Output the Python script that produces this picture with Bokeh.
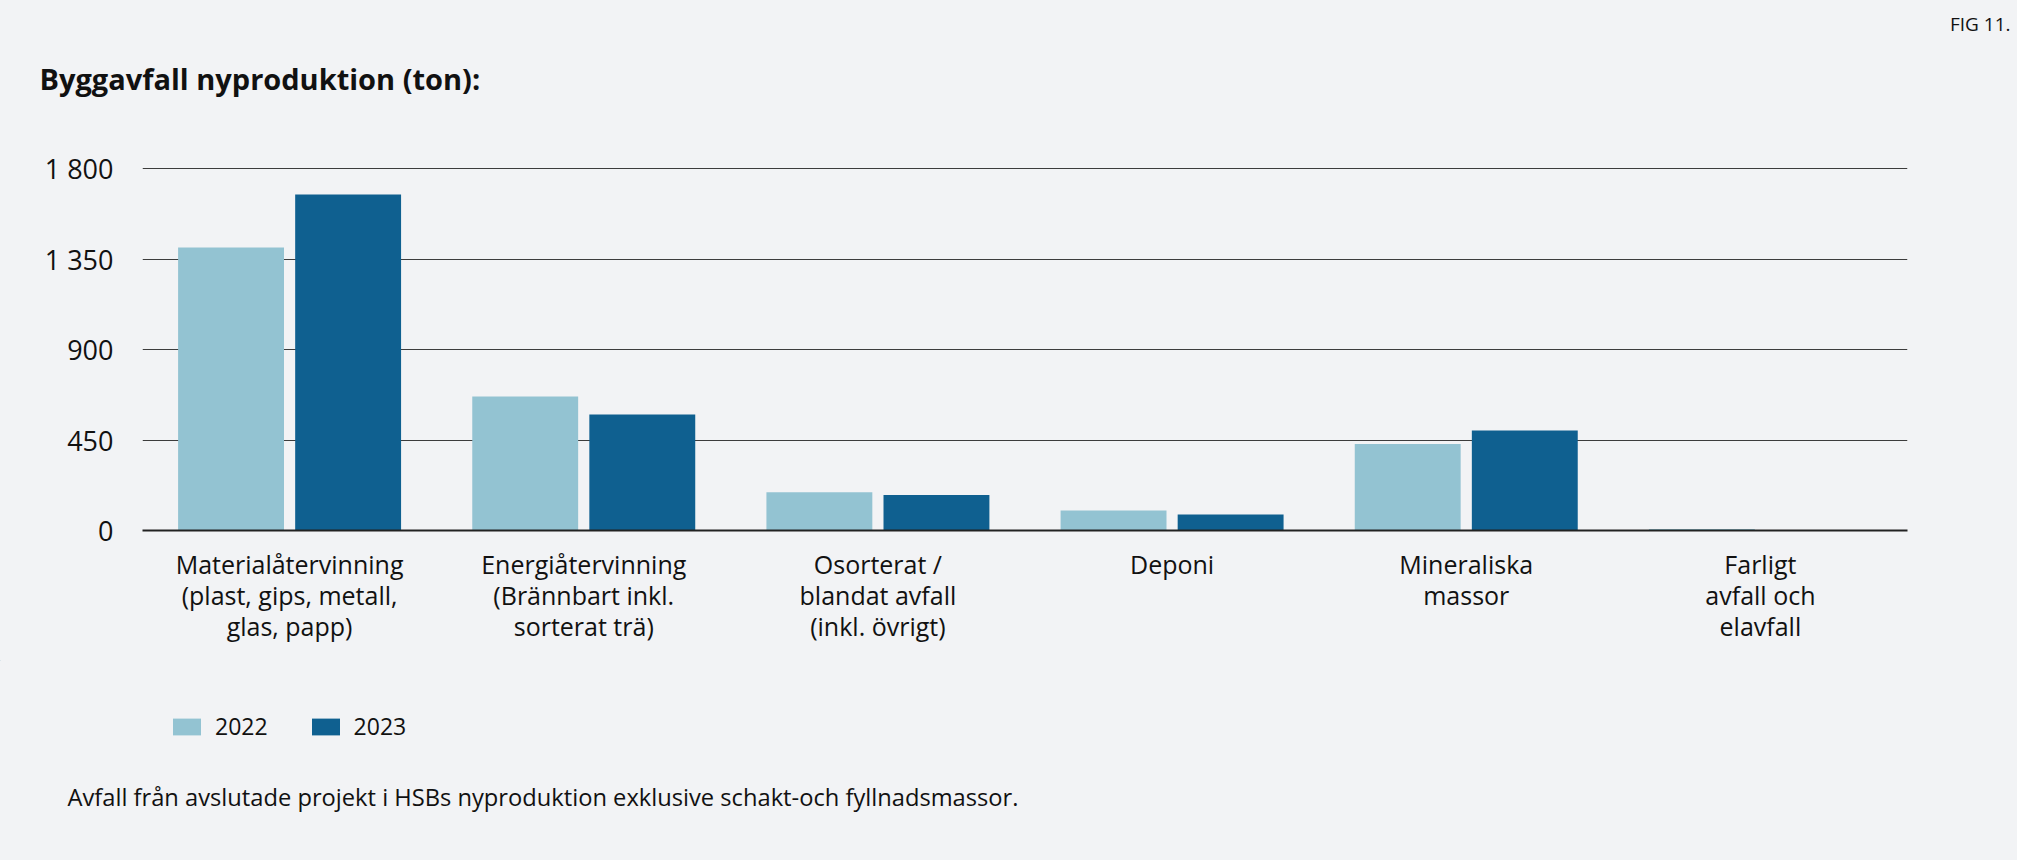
from bokeh.plotting import figure
from bokeh.layouts import column
from bokeh.models import (ColumnDataSource, FixedTicker, Label, Legend, LegendItem,
                          Range1d, FactorRange)
from bokeh.transform import dodge
from bokeh.embed import file_html
from bokeh.resources import INLINE

# ---- data ----
categories = [
    "Materialåtervinning\n(plast, gips, metall,\nglas, papp)",
    "Energiåtervinning\n(Brännbart inkl.\nsorterat trä)",
    "Osorterat /\nblandat avfall\n(inkl. övrigt)",
    "Deponi",
    "Mineraliska\nmassor",
    "Farligt\navfall och\nelavfall",
]
values_2022 = [1407, 666, 190, 100, 430, 7]
values_2023 = [1671, 577, 176, 80, 497, 3]
series_names = ["2022", "2023"]
y_ticks = [0, 450, 900, 1350, 1800]
y_tick_labels = ["0", "450", "900", "1 350", "1 800"]

title_text = "Byggavfall nyproduktion (ton):"
fig_text = "FIG 11."
note_text = "Avfall från avslutade projekt i HSBs nyproduktion exklusive schakt-och fyllnadsmassor."

# ---- styles ----
BG = "#f2f3f5"
C22 = "#93c3d2"
C23 = "#0f6090"
TXT = "#111111"
FONT = "Open Sans"

W = 2017
H_TOP, H_MAIN, H_BOT = 144, 516, 200


def blank(height):
    f = figure(width=W, height=height, x_range=Range1d(0, W), y_range=Range1d(height, 0),
               output_backend="svg", toolbar_location=None,
               x_axis_type=None, y_axis_type=None,
               min_border_left=0, min_border_right=0,
               min_border_top=0, min_border_bottom=0)
    f.frame_align = False
    f.background_fill_color = BG
    f.border_fill_color = BG
    f.outline_line_color = None
    f.xgrid.visible = False
    f.ygrid.visible = False
    return f


# ---- header ----
top = blank(H_TOP)
top.add_layout(Label(x=39, y=78, text=title_text,
                     text_font=FONT, text_font_size="29px", text_font_style="bold",
                     text_color=TXT, text_baseline="middle", text_align="left"))
top.add_layout(Label(x=2010, y=23, text=fig_text,
                     text_font=FONT, text_font_size="19px",
                     text_color=TXT, text_baseline="middle", text_align="right"))

# ---- main chart ----
src = ColumnDataSource(dict(cat=categories, v22=values_2022, v23=values_2023))

p = figure(width=W, height=H_MAIN, x_range=FactorRange(*categories), y_range=Range1d(0, 1820),
           output_backend="svg", toolbar_location=None,
           min_border_left=142, min_border_right=110,
           min_border_top=20, min_border_bottom=130)
p.frame_align = False
p.background_fill_color = BG
p.border_fill_color = BG
p.outline_line_color = None

p.vbar(x=dodge("cat", -0.199, range=p.x_range), top="v22", width=0.36, source=src,
       fill_color=C22, line_color=None)
p.vbar(x=dodge("cat", 0.199, range=p.x_range), top="v23", width=0.36, source=src,
       fill_color=C23, line_color=None)

p.xgrid.grid_line_color = None
p.ygrid.grid_line_color = "#3c3c3c"
p.ygrid.grid_line_width = 1
p.ygrid.ticker = FixedTicker(ticks=y_ticks)

p.yaxis.ticker = FixedTicker(ticks=y_ticks)
p.yaxis.major_label_overrides = {t: l for t, l in zip(y_ticks, y_tick_labels)}
p.yaxis.axis_line_color = None
p.yaxis.major_tick_line_color = None
p.yaxis.minor_tick_line_color = None
p.yaxis.major_tick_out = 0
p.yaxis.major_label_standoff = 29
p.yaxis.major_label_text_font = FONT
p.yaxis.major_label_text_font_size = "27px"
p.yaxis.major_label_text_color = TXT

p.xaxis.axis_line_color = "#222222"
p.xaxis.axis_line_width = 2
p.xaxis.major_tick_line_color = None
p.xaxis.minor_tick_line_color = None
p.xaxis.major_tick_out = 0
p.xaxis.major_label_standoff = 16
p.xaxis.major_label_text_font = FONT
p.xaxis.major_label_text_font_size = "25px"
p.xaxis.major_label_text_color = TXT
p.xaxis.major_label_text_line_height = 0.92
p.xaxis.major_label_orientation = "horizontal"

# ---- footer: legend + note ----
bot = blank(H_BOT)
# legend keys: one point each, placed outside the visible range
k22 = bot.vbar(x=[-500], top=[-400], bottom=[-450], width=1, fill_color=C22, line_color=None)
k23 = bot.vbar(x=[-500], top=[-400], bottom=[-450], width=1, fill_color=C23, line_color=None)
legend = Legend(items=[LegendItem(label=series_names[0], renderers=[k22]),
                       LegendItem(label=series_names[1], renderers=[k23])],
                location=(169, 118), orientation="horizontal",
                glyph_width=35, glyph_height=21, label_standoff=11, spacing=40,
                padding=0, margin=0, border_line_color=None, background_fill_color=None,
                label_text_font=FONT, label_text_font_size="23px", label_text_color=TXT,
                label_height=21)
bot.add_layout(legend, "center")
bot.add_layout(Label(x=67, y=136, text=note_text,
                     text_font=FONT, text_font_size="23.7px",
                     text_color=TXT, text_baseline="middle", text_align="left"))

layout = column(top, p, bot, spacing=0)
layout.styles = {"background-color": BG}
open("out.html", "w").write(file_html(layout, INLINE))
